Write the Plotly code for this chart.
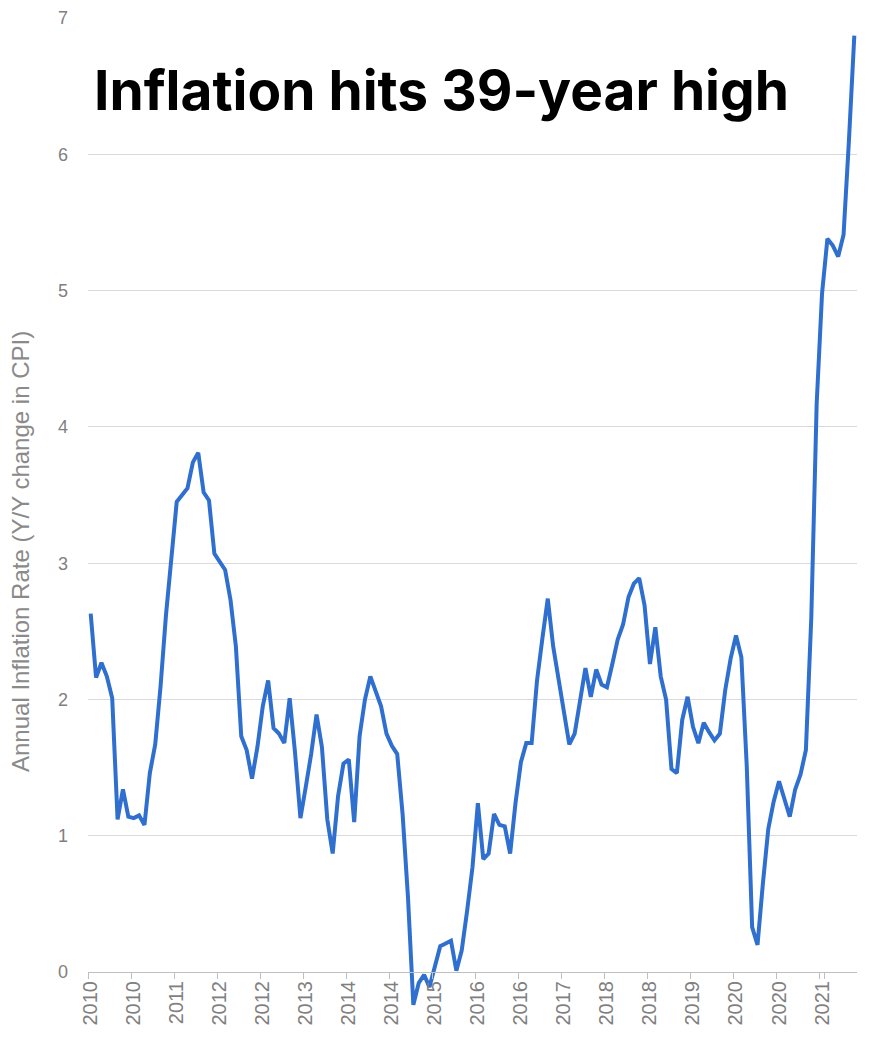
import plotly.graph_objects as go

# Monthly categories Jan 2010 .. Nov 2021
month_names = ["Jan", "Feb", "Mar", "Apr", "May", "Jun",
               "Jul", "Aug", "Sep", "Oct", "Nov", "Dec"]
years = list(range(2010, 2022))
months = [f"{m} {y}" for y in years for m in month_names][:143]

# Annual inflation rate (Y/Y change in CPI)
cpi_2010 = [2.63, 2.16, 2.27, 2.17, 2.01, 1.12, 1.34, 1.14, 1.13, 1.15, 1.08, 1.46]
cpi_2011 = [1.67, 2.10, 2.62, 3.07, 3.45, 3.50, 3.55, 3.74, 3.81, 3.52, 3.46, 3.07]
cpi_2012 = [3.01, 2.95, 2.73, 2.39, 1.73, 1.63, 1.42, 1.65, 1.95, 2.14, 1.79, 1.75]
cpi_2013 = [1.68, 2.01, 1.61, 1.13, 1.36, 1.60, 1.89, 1.65, 1.12, 0.87, 1.29, 1.53]
cpi_2014 = [1.56, 1.10, 1.73, 2.00, 2.17, 2.05, 1.95, 1.75, 1.66, 1.60, 1.16, 0.55]
cpi_2015 = [-0.24, -0.08, -0.02, -0.11, 0.04, 0.19, 0.21, 0.23, 0.01, 0.16, 0.45, 0.77]
cpi_2016 = [1.24, 0.83, 0.87, 1.16, 1.08, 1.07, 0.87, 1.24, 1.54, 1.68, 1.68, 2.14]
cpi_2017 = [2.45, 2.74, 2.39, 2.15, 1.90, 1.67, 1.75, 1.97, 2.23, 2.02, 2.22, 2.11]
cpi_2018 = [2.09, 2.26, 2.44, 2.55, 2.75, 2.85, 2.89, 2.69, 2.26, 2.53, 2.17, 2.00]
cpi_2019 = [1.49, 1.46, 1.85, 2.02, 1.80, 1.68, 1.83, 1.76, 1.70, 1.75, 2.07, 2.30]
cpi_2020 = [2.47, 2.31, 1.51, 0.33, 0.20, 0.65, 1.05, 1.25, 1.40, 1.27, 1.14, 1.34]
cpi_2021 = [1.45, 1.63, 2.60, 4.17, 4.98, 5.38, 5.33, 5.25, 5.41, 6.10, 6.87]

inflation = (cpi_2010 + cpi_2011 + cpi_2012 + cpi_2013 + cpi_2014 + cpi_2015 +
             cpi_2016 + cpi_2017 + cpi_2018 + cpi_2019 + cpi_2020 + cpi_2021)

# Category axis labels (every 8th month)
tick_labels = ["2010", "2010", "2011", "2012", "2012", "2013", "2014", "2014", "2015",
               "2016", "2016", "2017", "2018", "2018", "2019", "2020", "2020", "2021"]
tick_cats = months[::8]

y_ticks = [0, 1, 2, 3, 4, 5, 6, 7]
y_min, y_max = -0.3, 7.0

fig = go.Figure()
fig.add_trace(go.Scatter(
    x=months, y=inflation, mode="lines",
    line=dict(color="#2f6fd0", width=4),
    hoverinfo="x+y", showlegend=False,
))

# page body has an 8px margin, so the figure is sized/offset to compensate
fig.update_layout(
    width=854, height=1037,
    margin=dict(l=80, r=5, t=10, b=32, autoexpand=False),
    paper_bgcolor="white", plot_bgcolor="white",
    font=dict(family="Liberation Sans, Arial, sans-serif", color="#7f7f7f"),
    xaxis=dict(
        type="category",
        categoryorder="array", categoryarray=months,
        range=[-0.5, len(months) - 0.5],
        tickmode="array", tickvals=tick_cats, ticktext=tick_labels,
        tickson="boundaries",
        tickangle=-90,
        tickfont=dict(size=20, color="#7f7f7f"),
        ticks="outside", ticklen=6, tickcolor="#bfbfbf", tickwidth=1,
        showline=True, linecolor="#bfbfbf", linewidth=1,
        showgrid=False, zeroline=False,
        anchor="free", position=(0 - y_min) / (y_max - y_min),
        automargin=False, fixedrange=True,
    ),
    yaxis=dict(
        range=[y_min, y_max],
        tickmode="array", tickvals=y_ticks,
        tickfont=dict(size=18, color="#7f7f7f"),
        ticks="", ticklabelstandoff=19,
        showgrid=True, gridcolor="#d9d9d9", gridwidth=1,
        zeroline=False, showline=False,
        automargin=False, fixedrange=True,
    ),
    annotations=[
        dict(
            text="Inflation hits 39-year high",
            xref="paper", yref="paper",
            x=(92 - 88) / 769, y=(1013 - 90) / 995,
            xanchor="left", yanchor="middle", showarrow=False,
            font=dict(family="Inter, Lato, sans-serif", size=55, color="black", weight=700),
        ),
        dict(
            text="Annual Inflation Rate (Y/Y change in CPI)",
            xref="paper", yref="paper",
            x=(20 - 88) / 769, y=(1013 - 552) / 995,
            xanchor="center", yanchor="middle", textangle=-90, showarrow=False,
            font=dict(family="Liberation Sans, Arial, sans-serif", size=24, color="#8a8a8a"),
        ),
    ],
)

fig.write_html("out.html")
